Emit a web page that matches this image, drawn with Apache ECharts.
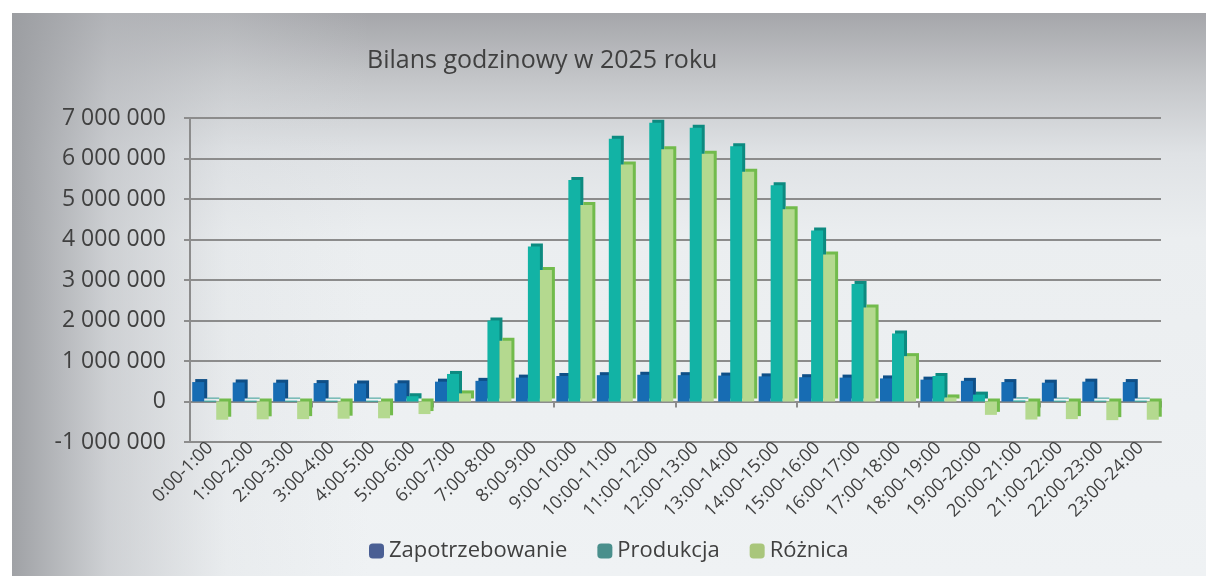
<!DOCTYPE html>
<html><head><meta charset="utf-8">
<script src="https://cdn.jsdelivr.net/npm/echarts@6/dist/echarts.min.js"></script>
<style>
html,body{margin:0;padding:0;background:#fff;}
#wrap{position:absolute;left:12px;top:13px;width:1194px;height:563px;
background:
 linear-gradient(to right, rgba(155,157,161,0.95) 0%, rgba(185,187,191,0.6) 8%, rgba(215,218,221,0.25) 18%, rgba(235,238,240,0) 30%),
 linear-gradient(to bottom, #a5a6aa 0%, #c4c6c9 12%, #dfe2e5 25%, #ebeef0 40%, #eff2f4 100%);}
#chart{position:absolute;left:0;top:0;width:1206px;height:580px;}
</style></head>
<body><div id="wrap"></div><div id="chart"></div>
<script>
const categories = ["0:00-1:00","1:00-2:00","2:00-3:00","3:00-4:00","4:00-5:00","5:00-6:00","6:00-7:00","7:00-8:00","8:00-9:00","9:00-10:00","10:00-11:00","11:00-12:00","12:00-13:00","13:00-14:00","14:00-15:00","15:00-16:00","16:00-17:00","17:00-18:00","18:00-19:00","19:00-20:00","20:00-21:00","21:00-22:00","22:00-23:00","23:00-24:00"];
const zapotrzebowanie = [480000,470000,465000,455000,445000,450000,490000,510000,590000,630000,650000,660000,650000,640000,620000,600000,590000,570000,540000,510000,480000,465000,490000,480000];
const produkcja = [20000,20000,20000,20000,20000,130000,680000,2000000,3830000,5470000,6490000,6880000,6760000,6300000,5340000,4220000,2900000,1680000,630000,170000,25000,20000,20000,20000];
const roznica = [-450000,-440000,-435000,-425000,-415000,-310000,200000,1500000,3250000,4850000,5850000,6230000,6120000,5670000,4750000,3630000,2320000,1120000,100000,-330000,-445000,-435000,-460000,-450000];
const yTicks = {min:-1000000, max:7000000, interval:1000000};
const seriesNames = ["Zapotrzebowanie","Produkcja","Różnica"];

const chart = echarts.init(document.getElementById('chart'), null, {renderer:'canvas'});
const font = '"Open Sans", sans-serif';
const txt = '#404040';
const gridCol = '#8c8c8c';
function fmt(v){return String(v).replace(/\B(?=(\d{3})+(?!\d))/g,' ');}
function bar(name, data, color, side){
  return {name, type:'bar', data, barWidth:12, barGap:'0%', xAxisIndex:0,
    itemStyle:{color, shadowColor:side, shadowOffsetX:3, shadowOffsetY:-3, shadowBlur:0}};
}
chart.setOption({
  backgroundColor:'transparent',
  animation:false,
  title:{text:'Bilans godzinowy w 2025 roku', left:362, top:43,
    textStyle:{fontFamily:font, fontSize:25, fontWeight:'normal', color:txt}},
  legend:{left:364, top:535, itemWidth:15, itemHeight:15, itemGap:30,
    textStyle:{fontFamily:font, fontSize:22, color:txt},
    data:[{name:seriesNames[0], itemStyle:{color:'#4a5f94', borderWidth:0, shadowBlur:0, shadowOffsetX:0, shadowOffsetY:0}},
          {name:seriesNames[1], itemStyle:{color:'#4a8f8c', borderWidth:0, shadowBlur:0, shadowOffsetX:0, shadowOffsetY:0}},
          {name:seriesNames[2], itemStyle:{color:'#a9c67b', borderWidth:0, shadowBlur:0, shadowOffsetX:0, shadowOffsetY:0}}]},
  grid:{left:190, right:45, top:118, bottom:138, containLabel:false},
  xAxis:[{type:'category', data:categories, position:'bottom',
    axisLine:{onZero:false, lineStyle:{color:gridCol, width:2}},
    axisTick:{show:false},
    axisLabel:{interval:0, rotate:45, margin:3, fontFamily:font, fontSize:18, color:txt}},
   {type:'category', data:categories, position:'bottom',
    axisLine:{onZero:true, lineStyle:{color:gridCol, width:2}},
    axisTick:{show:true, length:6, lineStyle:{color:gridCol, width:2}},
    axisLabel:{show:false}}],
  yAxis:{type:'value', min:yTicks.min, max:yTicks.max, interval:yTicks.interval,
    axisLine:{show:true, lineStyle:{color:gridCol, width:2}},
    axisTick:{show:true, length:6, lineStyle:{color:gridCol, width:2}},
    splitLine:{lineStyle:{color:gridCol, width:2}},
    axisLabel:{formatter:fmt, fontFamily:font, fontSize:23, color:txt, margin:24}},
  series:[
    bar(seriesNames[0], zapotrzebowanie, '#176cb3', '#0f4f87'),
    bar(seriesNames[1], produkcja, '#12b3a5', '#0d8a80'),
    bar(seriesNames[2], roznica, '#b4d98f', '#72bb4c')
  ]
});
</script></body></html>
